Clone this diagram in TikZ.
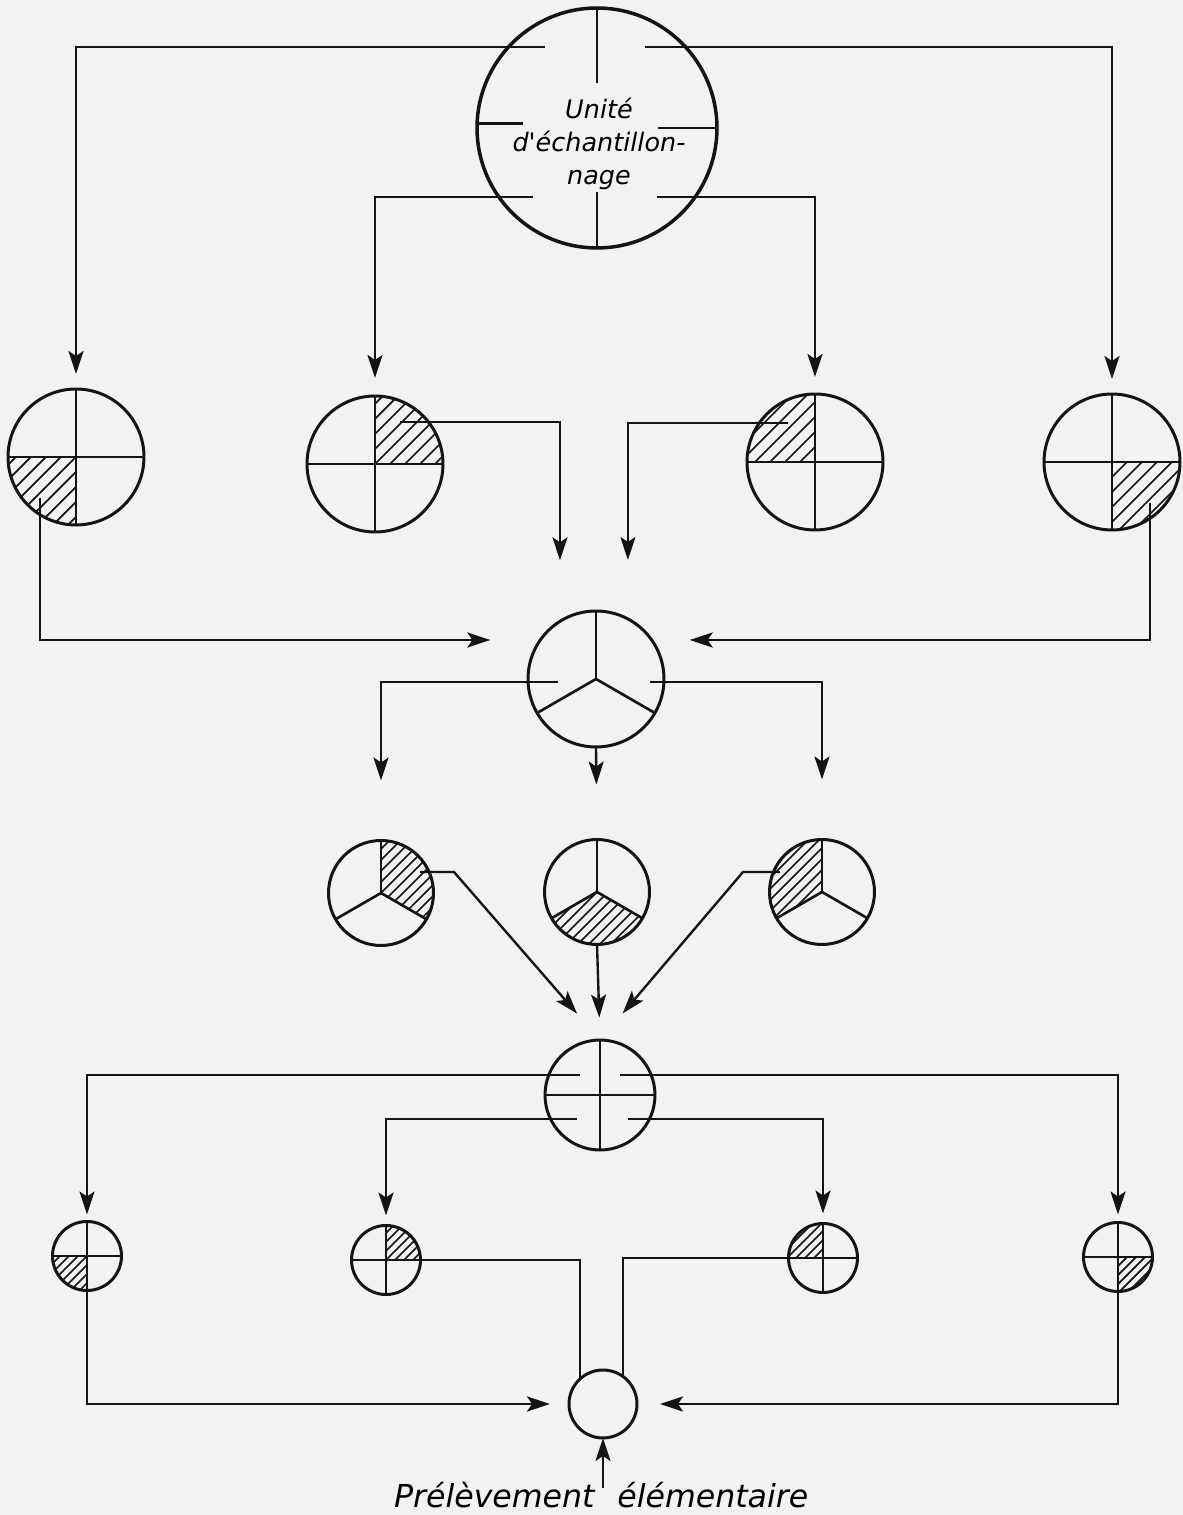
\documentclass[tikz,border=0pt]{standalone}
\usepackage{fontspec}
\usepackage{tikz}
\usetikzlibrary{calc,arrows.meta}
\newfontfamily\handFont{DejaVu Sans}
\definecolor{paperGrey}{RGB}{241,242,243}
\definecolor{inkBlack}{RGB}{20,20,20}
\newcommand{\hatchSector}[5]{%
  \begin{scope}
    \clip (#1.center) -- ($(#1.center)+(#3:#2)$) arc[start angle=#3,end angle=#4,radius=#2] -- cycle;
    \foreach \k in {-8,...,8}
      \draw[hatchLine] ($(#1.center)+({\k*#5-#2},{-#2})$) -- ++({2*#2},{2*#2});
  \end{scope}}

\begin{document}
\begin{tikzpicture}[x=0.02cm,y=0.02cm,
  disc/.style={circle,draw=inkBlack,line width=1.7pt,inner sep=0pt,outer sep=0pt,minimum size=#1},
  divider/.style={draw=inkBlack,line width=1.5pt},
  hatchLine/.style={draw=inkBlack,line width=1pt},
  wire/.style={draw=inkBlack,line width=1.35pt},
  feed/.style={wire,-{Stealth[length=0.46cm,width=0.3cm,inset=0.1cm]}},
  unitLabel/.style={font=\handFont\itshape\fontsize{14.5}{19}\selectfont,align=center,inner sep=0pt},
  sampleLabel/.style={font=\handFont\itshape\fontsize{18}{22}\selectfont,inner sep=0pt}]

\fill[paperGrey] (0,0) rectangle (1183,1515);

% unite d'echantillonnage
\node[disc=4.8cm,line width=2pt] (unit) at (597,1387) {};
\node[unitLabel] (unitText) at ($(unit)+(2,-16)$) {Unité\\d'échantillon-\\nage};
\draw[divider] (unit.north) -- ++(0,-75);
\draw[divider] (unit.south) -- ++(0,56);
\draw[divider] (unit.178) -- ++(46,0);
\draw[divider] (unit.east) -- ++(-59,0);

% premiere division en quarts
\node[disc=2.72cm] (quartA) at (76,1058) {};
\node[disc=2.72cm] (quartB) at (375,1051) {};
\node[disc=2.72cm] (quartC) at (815,1053) {};
\node[disc=2.72cm] (quartD) at (1112,1053) {};
\hatchSector{quartA}{68}{180}{270}{15}
\hatchSector{quartB}{68}{0}{90}{15}
\hatchSector{quartC}{68}{90}{180}{15}
\hatchSector{quartD}{68}{270}{360}{15}
\foreach \q in {quartA,quartB,quartC,quartD} {
  \draw[divider] (\q.north) -- (\q.south);
  \draw[divider] (\q.west) -- (\q.east);
}

\coordinate (unitUL) at ($(unit)+(-52,81)$);
\coordinate (unitUR) at ($(unit)+(48,81)$);
\coordinate (unitLL) at ($(unit)+(-64,-69)$);
\coordinate (unitLR) at ($(unit)+(60,-69)$);
\draw[feed,shorten >=0.3cm] (unitUL) -| (quartA.north);
\draw[feed,shorten >=0.3cm] (unitUR) -| (quartD.north);
\draw[feed,shorten >=0.36cm] (unitLL) -| (quartB.north);
\draw[feed,shorten >=0.34cm] (unitLR) -| (quartC.north);

% melange et division en tiers
\node[disc=2.72cm] (mixer) at (596,836) {};
\foreach \a in {90,210,330} \draw[divider] (mixer.center) -- (mixer.\a);
\coordinate (quartAout) at ($(quartA)+(-36,-41)$);
\coordinate (quartBout) at ($(quartB)+(25,42)$);
\coordinate (quartCout) at ($(quartC)+(-27,39)$);
\coordinate (quartDout) at ($(quartD)+(38,-41)$);
\draw[feed,shorten >=1cm] (quartAout) |- (mixer.145);
\draw[feed,shorten >=0.76cm] (quartDout) |- (mixer.35);
\draw[feed,shorten >=1.22cm] (quartBout) -| (mixer.122);
\draw[feed,shorten >=1.18cm] (quartCout) -| (mixer.62);

\node[disc=2.1cm] (yA) at (381,622) {};
\node[disc=2.1cm] (yB) at (597,623) {};
\node[disc=2.1cm] (yC) at (822,623) {};
\hatchSector{yA}{52.5}{-30}{90}{11}
\hatchSector{yB}{52.5}{210}{330}{11}
\hatchSector{yC}{52.5}{90}{210}{11}
\foreach \y in {yA,yB,yC} {
  \foreach \a in {90,210,330} {\draw[divider] (\y.center) -- (\y.\a);}
}
\coordinate (mixerL) at ($(mixer)+(-38,-3)$);
\coordinate (mixerR) at ($(mixer)+(54,-3)$);
\draw[feed,shorten >=1.2cm] (mixerL) -| (yA.north);
\draw[feed,shorten >=1.2cm] (mixerR) -| (yC.north);
\draw[feed,shorten >=1.1cm] (mixer.south) -- (yB.north);

% seconde division
\node[disc=2.2cm] (split) at (600,420) {};
\draw[divider] (split.north) -- (split.south);
\draw[divider] (split.west) -- (split.east);
\coordinate (yAout) at ($(yA)+(39,21)$);
\coordinate (yAbend) at ($(yA)+(73,21)$);
\coordinate (yCout) at ($(yC)+(-42,20)$);
\coordinate (yCbend) at ($(yC)+(-79,20)$);
\draw[feed,shorten >=0.7cm] (yAout) -- (yAbend) -- (split.north);
\draw[feed,shorten >=0.7cm] (yCout) -- (yCbend) -- (split.north);
\draw[feed,shorten >=0.45cm] (yB.south) -- (split.north);

\node[disc=1.38cm] (binA) at (87,259) {};
\node[disc=1.38cm] (binB) at (386,255) {};
\node[disc=1.38cm] (binC) at (823,257) {};
\node[disc=1.38cm] (binD) at (1118,258) {};
\hatchSector{binA}{34.5}{180}{270}{9}
\hatchSector{binB}{34.5}{0}{90}{9}
\hatchSector{binC}{34.5}{90}{180}{9}
\hatchSector{binD}{34.5}{270}{360}{9}
\foreach \b in {binA,binB,binC,binD} {
  \draw[divider] (\b.north) -- (\b.south);
  \draw[divider] (\b.west) -- (\b.east);
}
\coordinate (splitUL) at ($(split)+(-20,20)$);
\coordinate (splitUR) at ($(split)+(20,20)$);
\coordinate (splitLL) at ($(split)+(-23,-24)$);
\coordinate (splitLR) at ($(split)+(28,-24)$);
\draw[feed,shorten >=0.14cm] (splitUL) -| (binA.north);
\draw[feed,shorten >=0.16cm] (splitUR) -| (binD.north);
\draw[feed,shorten >=0.2cm] (splitLL) -| (binB.north);
\draw[feed,shorten >=0.2cm] (splitLR) -| (binC.north);

% prelevement elementaire
\node[disc=1.36cm] (sample) at (603,111) {};
\draw[feed,shorten >=0.38cm] (binA.south) |- (sample.west);
\draw[feed,shorten >=0.46cm] (binD.south) |- (sample.east);
\draw[wire] (binB.east) -| (sample.132);
\draw[wire] (binC.west) -| (sample.54);

\node[sampleLabel,anchor=base east] (labelA) at (595,8) {Prélèvement};
\node[sampleLabel,anchor=base west] (labelB) at (617,8) {élémentaire};
\coordinate (labelArrow) at (603,27);
\draw[feed] (labelArrow) -- (sample.south);
\end{tikzpicture}
\end{document}
